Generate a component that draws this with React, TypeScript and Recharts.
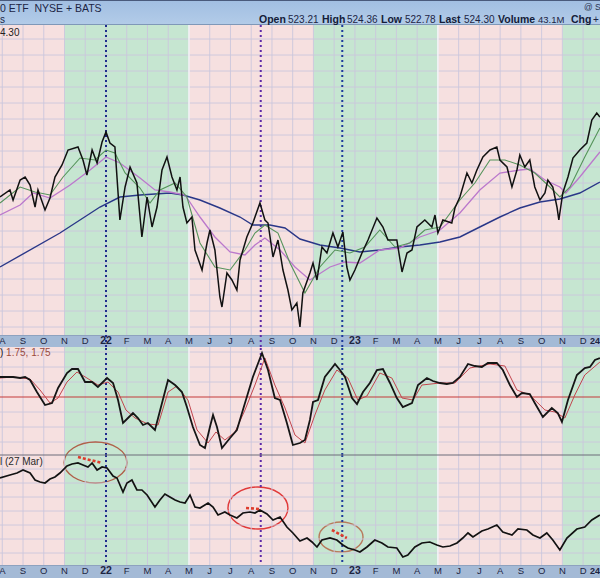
import React from "react";
import {
  ComposedChart,
  Line,
  XAxis,
  YAxis,
  ReferenceArea,
  ReferenceLine,
} from "recharts";

// x values are months counted from Aug 2021 (0 = Aug, 5 = Jan 2022, 17 = Jan 2023)
const monthLabels = [
  "A", "S", "O", "N", "D", "22", "F", "M", "A", "M", "J", "J", "A", "S", "O",
  "N", "D", "23", "F", "M", "A", "M", "J", "J", "A", "S", "O", "N", "D", "24",
];
const monthTicks = monthLabels.map((_, i) => i);

const greenBands = [[3, 9], [15, 21], [27, 29.2]];
const pinkBands = [[-0.11, 3], [9, 15], [21, 27]];
const bandEdges = [9, 21];
const markerLines = [
  { m: 5.0, color: "#1d2c8c" },
  { m: 12.46, color: "#5e2aa8" },
  { m: 16.39, color: "#1d3a9c" },
];

const price = [
  [-0.11, 414], [0.37, 417.5], [0.52, 412.5], [0.86, 422.5], [1.1, 424], [1.34, 420],
  [1.58, 409], [1.72, 417.5], [2.06, 407.5], [2.3, 413.5], [2.54, 424], [2.88, 430],
  [3.17, 437.5], [3.65, 439], [3.89, 432.5], [4.08, 425], [4.33, 437.5], [4.57, 431],
  [4.81, 441.5], [5.0, 446.5], [5.19, 441], [5.43, 439], [5.67, 402.5], [5.92, 419],
  [6.16, 429], [6.49, 421], [6.73, 394], [6.98, 414], [7.22, 399], [7.46, 409],
  [7.7, 427.5], [7.94, 434], [8.18, 424], [8.42, 417.5], [8.57, 424], [8.71, 409],
  [8.9, 401], [9.14, 404], [9.29, 387.5], [9.63, 377.5], [9.87, 391], [10.01, 397.5],
  [10.25, 387.5], [10.49, 364], [10.59, 359], [10.83, 376], [11.07, 372.5], [11.31, 367.5],
  [11.46, 382.5], [11.79, 394], [12.08, 401], [12.42, 411], [12.66, 402.5], [12.81, 401],
  [13.05, 384], [13.29, 392.5], [13.53, 377.5], [13.77, 367.5], [13.96, 357.5], [14.2, 361],
  [14.35, 349], [14.49, 366], [14.83, 376], [14.98, 381], [15.17, 372.5], [15.41, 389],
  [15.65, 386], [15.94, 396], [16.18, 389], [16.42, 396.5], [16.61, 379], [16.76, 372.5],
  [17.0, 377.5], [17.34, 386], [17.63, 392.5], [18.06, 403.5], [18.35, 399], [18.59, 392.5],
  [19.02, 392.5], [19.27, 376.5], [19.51, 386], [19.75, 387.5], [19.99, 399], [20.37, 402.5],
  [20.71, 399], [20.86, 405], [21.0, 396], [21.24, 402.5], [21.67, 401], [21.82, 408.5],
  [22.06, 414], [22.4, 426], [22.64, 421], [22.88, 427.5], [23.17, 434], [23.51, 437.5],
  [23.84, 439], [23.99, 432.5], [24.33, 429], [24.57, 419], [24.81, 427.5], [24.95, 435],
  [25.19, 429], [25.43, 432.5], [25.67, 419], [25.92, 412.5], [26.16, 416], [26.3, 422.5],
  [26.54, 419], [26.74, 409], [26.83, 402.5], [27.02, 416], [27.27, 424], [27.51, 433.5],
  [27.84, 437.5], [28.18, 441], [28.42, 452.5], [28.66, 456], [28.81, 454],
];

const ma20 = [
  [-0.11, 411], [0.86, 419], [1.58, 416.5], [2.3, 415], [2.93, 424], [3.75, 433.5],
  [4.47, 432.5], [5.0, 437.5], [5.43, 436], [5.92, 426], [6.64, 418.5], [7.12, 411],
  [7.6, 417.5], [8.33, 421], [8.9, 414], [9.53, 391], [10.25, 379], [10.98, 377.5],
  [11.7, 387.5], [12.18, 396], [12.66, 400], [13.29, 396], [13.87, 381], [14.35, 371],
  [14.59, 366], [15.31, 379], [16.04, 387.5], [16.76, 386], [17.48, 389], [18.2, 397.5],
  [18.93, 389], [19.65, 391], [20.37, 397.5], [21.1, 399], [22.06, 412.5], [22.78, 421],
  [23.51, 432.5], [24.23, 432.5], [24.95, 430], [25.67, 426], [26.4, 419], [26.88, 414],
  [27.37, 419], [28.08, 434], [28.81, 448.5],
];

const ma50 = [
  [-0.11, 405], [0.86, 410], [1.48, 416], [2.3, 413.5], [3.27, 420], [4.23, 427.5],
  [5.0, 434], [5.67, 431], [6.64, 423.5], [7.36, 417.5], [8.08, 416.5], [8.81, 415],
  [9.53, 404], [10.25, 394], [10.98, 386.5], [11.7, 385], [12.18, 390], [12.66, 393.5],
  [13.39, 387.5], [14.11, 379], [14.83, 372.5], [15.8, 379], [16.52, 381.5], [17.24, 381],
  [18.2, 387.5], [19.17, 388.5], [20.13, 394], [21.1, 397.5], [22.06, 406], [23.02, 417.5],
  [23.99, 426], [24.95, 427.5], [25.43, 428], [26.16, 422.5], [26.88, 419], [27.17, 416],
  [27.84, 424], [28.81, 436.5],
];

const ma200 = [
  [-0.11, 379], [2.78, 396], [4.71, 409], [5.67, 414], [6.64, 415], [8.08, 416],
  [8.71, 415], [9.53, 412.5], [10.49, 408.5], [11.46, 404], [12.08, 400], [12.9, 400],
  [13.63, 398.5], [14.35, 393], [15.31, 390], [16.28, 388.5], [17.24, 386.5], [18.2, 387.5],
  [19.17, 389], [20.13, 390], [21.1, 391.5], [22.06, 394], [23.02, 399], [23.99, 404],
  [24.95, 408.5], [25.92, 411.5], [26.88, 413], [27.84, 416], [28.81, 421.5],
];

const pmo = [
  [-0.11, 1.0], [0.52, 1.0], [0.86, 0.95], [1.1, 1.0], [1.34, 0.85], [1.67, 0.25],
  [2.06, -0.4], [2.4, -0.3], [2.69, 0.45], [3.12, 1.2], [3.36, 1.4], [3.65, 1.4],
  [3.99, 0.75], [4.33, 0.75], [4.61, 0.5], [5.05, 0.95], [5.34, 0.7], [5.58, -0.15],
  [5.82, -1.3], [6.06, -1.05], [6.3, -0.8], [6.54, -1.05], [6.78, -1.4], [7.02, -1.3],
  [7.36, -1.65], [7.7, -0.3], [7.99, 0.85], [8.33, 0.6], [8.66, 0.25], [8.9, -0.5],
  [9.19, -1.5], [9.53, -2.4], [9.77, -2.55], [10.01, -1.5], [10.16, -0.9], [10.35, -1.5],
  [10.59, -2.55], [10.98, -2.05], [11.31, -1.65], [11.7, -0.3], [12.08, 1.0], [12.52, 2.2],
  [12.81, 1.35], [13.14, -0.05], [13.39, -0.15], [13.72, -1.3], [14.01, -2.4], [14.35, -2.3],
  [14.59, -2.15], [14.83, -1.15], [14.98, -0.25], [15.22, -0.15], [15.55, 1.0], [15.89, 1.45],
  [16.04, 1.65], [16.28, 1.35], [16.52, 1.0], [16.86, -0.05], [17.1, -0.35], [17.39, 0.25],
  [17.72, 0.7], [18.06, 1.35], [18.35, 1.4], [18.69, 0.7], [19.02, -0.05], [19.31, -0.5],
  [19.75, -0.3], [20.04, 0.6], [20.47, 0.95], [20.76, 0.8], [21.1, 0.7], [21.43, 0.65],
  [21.72, 0.7], [22.06, 1.0], [22.45, 1.65], [22.78, 1.55], [23.12, 1.5], [23.41, 1.7],
  [23.84, 1.7], [24.13, 1.35], [24.47, 0.6], [24.81, 0.0], [25.05, 0.2], [25.43, 0.15],
  [25.67, -0.3], [26.06, -1.0], [26.49, -0.55], [26.78, -0.8], [26.98, -1.25], [27.27, -0.15],
  [27.7, 1.1], [28.08, 1.45], [28.33, 1.5], [28.57, 1.85], [28.81, 1.95],
];

const pmoSignal = [
  [-0.11, 0.95], [0.52, 1.0], [1.34, 0.9], [1.82, 0.35], [2.3, -0.3], [2.69, -0.05],
  [3.12, 0.75], [3.6, 1.25], [4.08, 0.95], [4.61, 0.6], [5.1, 0.75], [5.58, 0.25],
  [5.96, -0.65], [6.4, -1.05], [7.02, -1.35], [7.51, -1.4], [7.99, 0.25], [8.42, 0.55],
  [8.95, -0.15], [9.39, -1.65], [9.92, -2.3], [10.3, -1.75], [10.73, -2.15], [11.22, -1.75],
  [11.7, -0.65], [12.18, 0.6], [12.66, 1.95], [13.14, 0.6], [13.63, -0.55], [14.11, -1.9],
  [14.59, -2.3], [15.07, -0.9], [15.55, 0.35], [16.13, 1.35], [16.66, 0.95], [17.14, -0.15],
  [17.58, 0.05], [18.2, 1.2], [18.78, 0.95], [19.27, -0.05], [19.8, -0.15], [20.23, 0.6],
  [21.1, 0.7], [21.82, 0.7], [22.54, 1.45], [23.51, 1.65], [24.23, 1.55], [24.81, 0.35],
  [25.43, 0.1], [26.16, -0.65], [26.64, -0.75], [27.12, -1.05], [27.6, 0.1], [28.08, 1.1],
  [28.81, 1.75],
];

const ratio = [
  [-0.11, 1.554], [0.37, 1.56], [0.71, 1.564], [1.0, 1.57], [1.34, 1.564], [1.58, 1.55],
  [1.82, 1.546], [2.06, 1.544], [2.3, 1.552], [2.54, 1.556], [2.78, 1.564], [3.12, 1.578],
  [3.36, 1.582], [3.65, 1.584], [3.89, 1.58], [4.13, 1.576], [4.33, 1.584], [4.57, 1.57],
  [4.81, 1.576], [5.05, 1.574], [5.34, 1.558], [5.53, 1.554], [5.82, 1.526], [6.01, 1.544],
  [6.25, 1.55], [6.49, 1.53], [6.73, 1.53], [6.98, 1.52], [7.36, 1.496], [7.6, 1.51],
  [7.84, 1.522], [8.08, 1.516], [8.33, 1.51], [8.57, 1.506], [8.81, 1.504], [9.05, 1.52],
  [9.29, 1.496], [9.53, 1.494], [9.92, 1.504], [10.16, 1.496], [10.4, 1.48], [10.73, 1.486],
  [10.98, 1.48], [11.31, 1.474], [11.6, 1.484], [11.94, 1.486], [12.18, 1.484], [12.42, 1.49],
  [12.76, 1.482], [13.05, 1.47], [13.39, 1.476], [13.72, 1.456], [14.01, 1.444], [14.35, 1.428],
  [14.69, 1.434], [14.93, 1.426], [15.17, 1.416], [15.41, 1.43], [15.8, 1.434], [16.13, 1.43],
  [16.42, 1.42], [16.66, 1.414], [17.0, 1.41], [17.24, 1.406], [17.58, 1.416], [17.96, 1.43],
  [18.3, 1.424], [18.59, 1.416], [19.02, 1.414], [19.31, 1.396], [19.55, 1.4], [19.89, 1.416],
  [20.23, 1.424], [20.61, 1.426], [20.95, 1.42], [21.24, 1.416], [21.58, 1.418], [21.92, 1.424],
  [22.2, 1.434], [22.45, 1.444], [22.69, 1.436], [23.12, 1.448], [23.41, 1.452], [23.84, 1.46],
  [24.13, 1.446], [24.57, 1.44], [24.86, 1.452], [25.29, 1.45], [25.58, 1.44], [25.92, 1.434],
  [26.25, 1.444], [26.54, 1.43], [26.88, 1.41], [27.22, 1.434], [27.7, 1.452], [28.08, 1.456],
  [28.42, 1.47], [28.81, 1.48],
];

// circled tops on the ratio panel, and the dashed lower highs inside them
const circles = [
  { x1: 2.98, x2: 6.01, y1: 1.544, y2: 1.626, color: "#b0604a" },
  { x1: 10.88, x2: 13.77, y1: 1.452, y2: 1.536, color: "#e03a3a" },
  { x1: 15.27, x2: 17.39, y1: 1.406, y2: 1.466, color: "#b87a5c" },
];
const lowerHighs = [
  [[3.65, 1.596], [4.81, 1.584]],
  [[11.75, 1.494], [12.42, 1.492]],
  [[15.89, 1.45], [16.61, 1.434]],
];

const priceGrid = [493, 485, 477, 469, 461, 453, 445, 437, 429, 421, 413, 405, 397, 389, 381, 373, 365, 357, 349];
const pmoGrid = [2.25, 1.5, 0.75, -0.75, -1.5, -2.25];
const ratioGrid = [1.572, 1.544, 1.516, 1.488, 1.46, 1.432, 1.404];

const X_DOMAIN: [number, number] = [-0.11, 29.2];
const CHART_W = 608;
const VISIBLE_W = 600;
const FONT = "'Liberation Sans', Arial, sans-serif";
const GRID = "#cbc6dc";
const GREEN = "#c6e6d1";
const PINK = "#f6e0e0";
const BAND = "#a4bad6";

const toPoints = (rows: number[][]) => rows.map(([m, v]) => ({ m, v }));

const MonthTick = (props: any) => {
  const { x, y, payload } = props;
  const label = monthLabels[payload.value];
  const isYear = /\d/.test(label);
  // the last year label falls on the right edge: pull it inside
  const atEdge = x + 6 > VISIBLE_W;
  return (
    <text
      x={atEdge ? VISIBLE_W : x}
      y={y}
      dy={9}
      textAnchor={atEdge ? "end" : "middle"}
      fontSize={atEdge ? 9 : isYear ? 10.5 : 9.5}
      fontWeight={isYear ? 700 : 400}
      fill="#1d2542"
      fontFamily={FONT}
    >
      {label}
    </text>
  );
};

const Ellipse = (color: string) => (p: any) => (
  <ellipse
    cx={p.x + p.width / 2}
    cy={p.y + p.height / 2}
    rx={Math.abs(p.width) / 2}
    ry={Math.abs(p.height) / 2}
    fill="none"
    stroke={color}
    strokeWidth={1.4}
  />
);

const vLine = (key: string, m: number, lo: number, hi: number, props: any) => (
  <ReferenceLine key={key} segment={[{ x: m, y: lo }, { x: m, y: hi }]} ifOverflow="visible" {...props} />
);

// shading, grid and event markers for one panel
function decor(lo: number, hi: number, grid: number[], markerLo: number) {
  return [
    ...pinkBands.map(([a, b]) => (
      <ReferenceArea key={"p" + a} x1={a} x2={b} fill={PINK} fillOpacity={1} stroke="none" />
    )),
    ...greenBands.map(([a, b]) => (
      <ReferenceArea key={"g" + a} x1={a} x2={b} fill={GREEN} fillOpacity={1} stroke="none" />
    )),
    ...monthTicks.map((m) => vLine("vg" + m, m, lo, hi, { stroke: GRID, strokeWidth: 0.9 })),
    ...grid.map((v) => <ReferenceLine key={"hg" + v} y={v} stroke={GRID} strokeWidth={0.9} />),
    ...bandEdges.map((m) => vLine("be" + m, m, lo, hi, { stroke: "#fbfbfb", strokeWidth: 1.3 })),
    ...markerLines.map((l) =>
      vLine("mk" + l.m, l.m, markerLo, hi, { stroke: l.color, strokeWidth: 2, strokeDasharray: "2 3" })
    ),
  ];
}

const abs = (top: number, left: number, extra: React.CSSProperties = {}): React.CSSProperties => ({
  position: "absolute",
  top,
  left,
  whiteSpace: "nowrap",
  fontFamily: FONT,
  ...extra,
});

export default function App() {
  const bold: React.CSSProperties = { fontWeight: 700, fontSize: 10.5, color: "#141c38" };
  const reg: React.CSSProperties = { fontSize: 10, color: "#1c2444" };
  return (
    <div
      style={{
        position: "fixed",
        left: 0,
        top: 0,
        width: VISIBLE_W,
        height: 578,
        overflow: "hidden",
        background: "#ffffff",
      }}
    >
      <style>{`.ratio-panel svg { overflow: visible; } .ratio-panel .recharts-wrapper { overflow: visible; }`}</style>

      {/* header */}
      <div
        style={{
          position: "absolute",
          left: 0,
          top: 0,
          width: 600,
          height: 25,
          background: "linear-gradient(#a2bfe2, #b2cbe8)",
          borderTop: "1px solid #4a5a7c",
          borderBottom: "1px solid #7f98b8",
          boxSizing: "border-box",
        }}
      />
      <div style={abs(2, 0, { ...reg, fontSize: 10.5 })}>0 ETF&nbsp; NYSE + BATS</div>
      <div style={abs(2, 584, { fontSize: 8.5, color: "#2a3350" })}>@ S</div>
      <div style={abs(14, 0, reg)}>s</div>
      <div style={abs(13, 259, bold)}>Open</div>
      <div style={abs(14, 288, reg)}>523.21</div>
      <div style={abs(13, 322, bold)}>High</div>
      <div style={abs(14, 347, reg)}>524.36</div>
      <div style={abs(13, 381, bold)}>Low</div>
      <div style={abs(14, 405, reg)}>522.78</div>
      <div style={abs(13, 439, bold)}>Last</div>
      <div style={abs(14, 464, reg)}>524.30</div>
      <div style={abs(13, 498, bold)}>Volume</div>
      <div style={abs(14, 538, { ...reg, fontSize: 9.5 })}>43.1M</div>
      <div style={abs(13, 571, bold)}>Chg</div>
      <div style={abs(14, 593, reg)}>+</div>

      {/* axis bands */}
      <div style={{ position: "absolute", left: 0, top: 335, width: 600, height: 12, background: BAND, borderTop: "1px solid #8ea2bf", boxSizing: "border-box" }} />
      <div style={{ position: "absolute", left: 0, top: 565, width: 600, height: 13, background: BAND, borderTop: "1px solid #8ea2bf", boxSizing: "border-box" }} />

      {/* price panel */}
      <div style={{ position: "absolute", left: 0, top: 25 }}>
        <ComposedChart width={CHART_W} height={322} margin={{ top: 0, right: 0, bottom: 0, left: 0 }}>
          {decor(345, 500, priceGrid, 339)}
          <XAxis
            dataKey="m"
            type="number"
            domain={X_DOMAIN}
            allowDataOverflow
            ticks={monthTicks}
            interval={0}
            height={12}
            tickSize={0}
            tickMargin={0}
            axisLine={false}
            tickLine={false}
            tick={<MonthTick />}
          />
          <YAxis hide type="number" domain={[345, 500]} allowDataOverflow />
          <Line data={toPoints(ma200)} dataKey="v" stroke="#2a3788" strokeWidth={1.4} dot={false} isAnimationActive={false} />
          <Line data={toPoints(ma50)} dataKey="v" stroke="#bb78cc" strokeWidth={1.3} dot={false} isAnimationActive={false} />
          <Line data={toPoints(ma20)} dataKey="v" stroke="#55935a" strokeWidth={1.1} dot={false} isAnimationActive={false} />
          <Line data={toPoints(price)} dataKey="v" stroke="#111111" strokeWidth={1.5} dot={false} isAnimationActive={false} />
        </ComposedChart>
      </div>
      <div style={abs(27, 0, { fontSize: 10, color: "#222" })}>4.30</div>

      {/* PMO panel */}
      <div style={{ position: "absolute", left: 0, top: 347 }}>
        <ComposedChart width={CHART_W} height={108} margin={{ top: 0, right: 0, bottom: 0, left: 0 }}>
          {decor(-2.9, 2.5, pmoGrid, -2.9)}
          <XAxis hide dataKey="m" type="number" domain={X_DOMAIN} allowDataOverflow />
          <YAxis hide type="number" domain={[-2.9, 2.5]} allowDataOverflow />
          <ReferenceLine y={0} stroke="#c43b3b" strokeWidth={1.2} />
          <Line data={toPoints(pmoSignal)} dataKey="v" stroke="#c2464e" strokeWidth={1} dot={false} isAnimationActive={false} />
          <Line data={toPoints(pmo)} dataKey="v" stroke="#151515" strokeWidth={1.8} dot={false} isAnimationActive={false} />
        </ComposedChart>
      </div>
      <div style={abs(347, 0, { fontSize: 10 })}>
        <span style={{ color: "#222" }}>) </span>
        <span style={{ color: "#9a4a3c" }}>1.75, 1.75</span>
      </div>

      {/* ratio panel */}
      <div className="ratio-panel" style={{ position: "absolute", left: 0, top: 455 }}>
        <ComposedChart width={CHART_W} height={123} margin={{ top: 0, right: 0, bottom: 0, left: 0 }}>
          {decor(1.38, 1.6, ratioGrid, 1.386)}
          <XAxis
            dataKey="m"
            type="number"
            domain={X_DOMAIN}
            allowDataOverflow
            ticks={monthTicks}
            interval={0}
            height={13}
            tickSize={0}
            tickMargin={0}
            axisLine={false}
            tickLine={false}
            tick={<MonthTick />}
          />
          <YAxis hide type="number" domain={[1.38, 1.6]} allowDataOverflow />
          <ReferenceLine y={1.6} stroke="#6d6d7a" strokeWidth={1.2} />
          <Line data={toPoints(ratio)} dataKey="v" stroke="#121212" strokeWidth={1.7} dot={false} isAnimationActive={false} />
          {lowerHighs.map((seg, i) => (
            <ReferenceLine
              key={"s" + i}
              segment={[{ x: seg[0][0], y: seg[0][1] }, { x: seg[1][0], y: seg[1][1] }]}
              stroke="#dd3b2c"
              strokeWidth={2.6}
              strokeDasharray="3 2"
              ifOverflow="visible"
            />
          ))}
          {circles.map((c, i) => (
            <ReferenceArea
              key={"c" + i}
              x1={c.x1}
              x2={c.x2}
              y1={c.y1}
              y2={c.y2}
              ifOverflow="visible"
              shape={Ellipse(c.color)}
            />
          ))}
        </ComposedChart>
      </div>
      <div style={abs(456, 0, { fontSize: 10, color: "#2a2a2a" })}>l (27 Mar)</div>
    </div>
  );
}
